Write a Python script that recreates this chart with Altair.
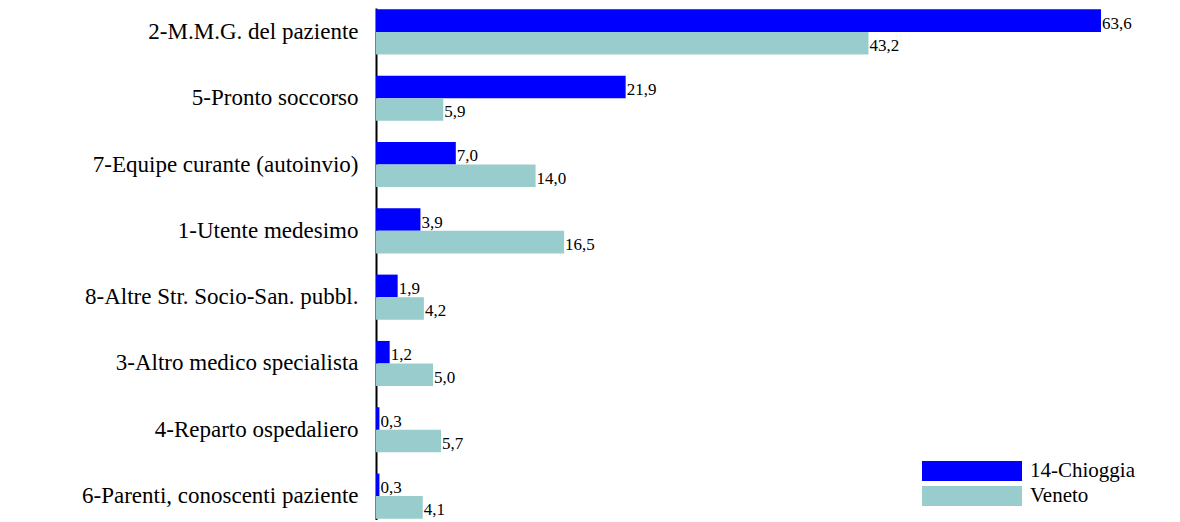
import altair as alt
import pandas as pd

categories = ["2-M.M.G. del paziente", "5-Pronto soccorso", "7-Equipe curante (autoinvio)",
              "1-Utente medesimo", "8-Altre Str. Socio-San. pubbl.", "3-Altro medico specialista",
              "4-Reparto ospedaliero", "6-Parenti, conoscenti paziente"]
chioggia = [63.6, 21.9, 7.0, 3.9, 1.9, 1.2, 0.3, 0.3]
veneto = [43.2, 5.9, 14.0, 16.5, 4.2, 5.0, 5.7, 4.1]
series = ["14-Chioggia", "Veneto"]

rows = []
for c, a, b in zip(categories, chioggia, veneto):
    for s, v in zip(series, (a, b)):
        rows.append({"cat": c, "serie": s, "val": v, "lab": f"{v:.1f}".replace(".", ",")})
df = pd.DataFrame(rows)

y = alt.Y("cat:N", sort=categories, title=None,
          scale=alt.Scale(paddingInner=0.32, paddingOuter=0.02),
          axis=alt.Axis(labelFont="Liberation Serif", labelFontSize=23, labelColor="black",
                        labelLimit=400, ticks=False, domainColor="black", domainWidth=2,
                        labelPadding=18))
x = alt.X("val:Q", axis=None, scale=alt.Scale(domain=[0, 69.3]))

bars = alt.Chart(df).mark_bar().encode(
    y=y, x=x, yOffset=alt.YOffset("serie:N", sort=series),
    color=alt.Color("serie:N", sort=series,
                    scale=alt.Scale(domain=series, range=["#0000ff", "#99cccc"]),
                    legend=alt.Legend(title=None, orient="none", legendX=546, legendY=452,
                                      labelFont="Liberation Serif", labelFontSize=21,
                                      labelColor="black", clipHeight=22,
                                      symbolType="M-1,-0.2H1V0.2H-1Z", symbolSize=10000,
                                      symbolStrokeWidth=0, symbolOpacity=1,
                                      rowPadding=3, labelOffset=8)),
)
text = alt.Chart(df).mark_text(align="left", baseline="middle", dx=1, dy=3,
                               font="Liberation Serif", fontSize=17, color="black").encode(
    y=y, x=x, yOffset=alt.YOffset("serie:N", sort=series), text="lab:N")

chart = (bars + text).properties(
    width=790, height=512,
    autosize=alt.AutoSizeParams(type="none"),
    padding={"left": 368, "top": 0, "right": 0, "bottom": 0},
).configure_view(strokeOpacity=0)

chart.save("out.html", embed_options={"renderer": "svg", "actions": False})
